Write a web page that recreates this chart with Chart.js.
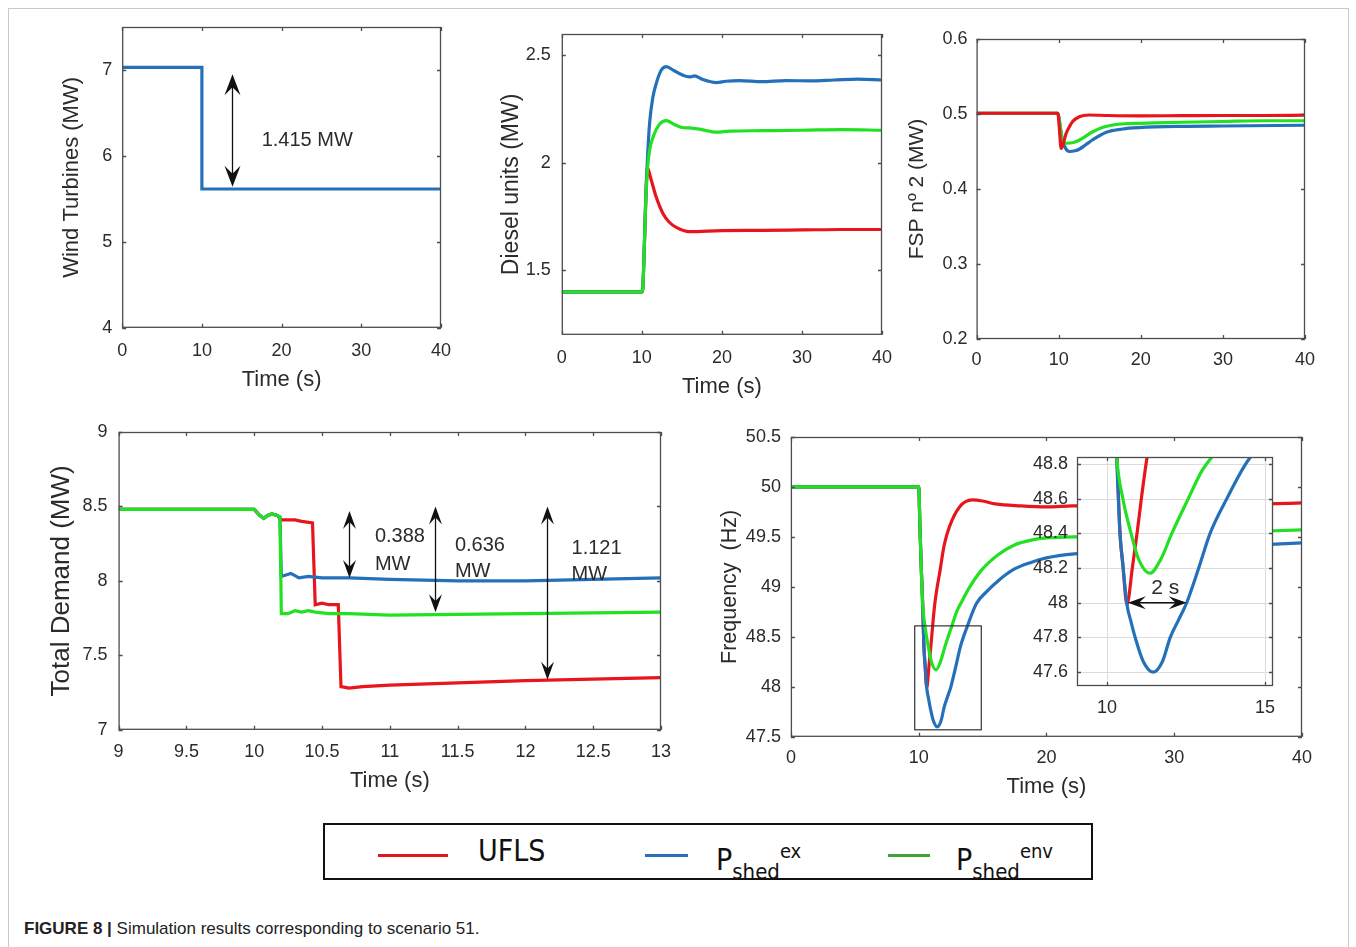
<!DOCTYPE html>
<html>
<head>
<meta charset="utf-8">
<script src="https://cdn.jsdelivr.net/npm/chart.js@4.4.1/dist/chart.umd.min.js"></script>
<style>
  body { margin: 0; background: #fff; width: 1356px; height: 947px; overflow: hidden; position: relative;
         font-family: "Liberation Sans", Arial, sans-serif; }
  canvas { position: absolute; }
  #frame { position: absolute; left: 8px; top: 8px; width: 1339px; height: 960px; border: 1px solid #c9c9c9; }
  #legend { position: absolute; left: 323px; top: 823px; width: 766px; height: 53px; border: 2px solid #111; background: #fff; }
  #legend .key { position: absolute; top: 29px; height: 3px; }
  #legend .name { position: absolute; top: 8px; font-family: "Liberation Sans Narrow", "DejaVu Sans Condensed", sans-serif;
                  font-stretch: condensed; font-size: 30px; color: #111; line-height: 36px; white-space: nowrap; }
  #legend sub { font-size: 22px; vertical-align: -9px; }
  #legend sup { font-size: 20px; vertical-align: 12px; }
  #caption { position: absolute; left: 24px; top: 919px; font-size: 17px; color: #222; white-space: nowrap; }
</style>
</head>
<body>
<div id="frame"></div>
<canvas id="wind"></canvas>
<canvas id="diesel"></canvas>
<canvas id="fsp"></canvas>
<canvas id="demand"></canvas>
<canvas id="freq"></canvas>
<canvas id="zoom"></canvas>

<div id="legend">
  <div class="key" style="left:53px;width:70px;background:#e3161e"></div>
  <div class="name" style="left:153px">UFLS</div>
  <div class="key" style="left:320px;width:43px;background:#2a6fbd"></div>
  <div class="name" style="left:391px">P<sub>shed</sub><sup>ex</sup></div>
  <div class="key" style="left:563px;width:42px;background:#3fa535"></div>
  <div class="name" style="left:631px">P<sub>shed</sub><sup>env</sup></div>
</div>
<div id="caption"><b>FIGURE 8 |</b> Simulation results corresponding to scenario 51.</div>

<script>
// tick values
const timeTicks = [0, 10, 20, 30, 40];
const windTicks = [4, 5, 6, 7];
const dieselTicks = [1.5, 2, 2.5];
const fspTicks = [0.2, 0.3, 0.4, 0.5, 0.6];
const demandTimeTicks = [9, 9.5, 10, 10.5, 11, 11.5, 12, 12.5, 13];
const demandTicks = [7, 7.5, 8, 8.5, 9];
const freqTicks = [47.5, 48, 48.5, 49, 49.5, 50, 50.5];
const zoomTimeTicks = [10, 15];
const zoomTicks = [47.6, 47.8, 48, 48.2, 48.4, 48.6, 48.8];

// wind turbines (MW), [time, value]
const windPower = [[0, 7.03], [10, 7.03], [10, 5.615], [40, 5.615]];

// diesel units (MW)
const dieselUfls = [[0, 1.40], [10, 1.40], [10.1, 1.41], [10.3, 1.6], [10.47, 1.80], [10.7, 1.977], [11.1, 1.93],
  [11.8, 1.84], [12.6, 1.767], [13.4, 1.725], [14.3, 1.70], [15.95, 1.68], [20, 1.685], [25, 1.686], [30, 1.688],
  [35, 1.69], [40, 1.69]];
const dieselEx = [[0, 1.40], [10, 1.40], [10.1, 1.41], [10.3, 1.6], [10.47, 1.82], [10.7, 2.02], [10.97, 2.186],
  [11.4, 2.31], [11.8, 2.37], [12.4, 2.43], [13.05, 2.448], [14, 2.43], [15, 2.41], [15.95, 2.40], [16.6, 2.405],
  [17.5, 2.39], [19.3, 2.374], [20.5, 2.38], [22.2, 2.383], [25, 2.378], [28, 2.383], [31, 2.382], [34, 2.386],
  [37, 2.39], [40, 2.386]];
const dieselEnv = [[0, 1.40], [10, 1.40], [10.1, 1.41], [10.3, 1.6], [10.47, 1.80], [10.7, 1.97], [10.97, 2.06],
  [11.5, 2.13], [12.2, 2.18], [13.05, 2.197], [14, 2.18], [15, 2.165], [15.95, 2.163], [17.5, 2.155], [19.3, 2.143],
  [21, 2.148], [25, 2.15], [30, 2.152], [35, 2.155], [40, 2.152]];

// FSP n 2 (MW)
const fspUfls = [[0, 0.501], [9.9, 0.501], [10.05, 0.485], [10.3, 0.454], [10.6, 0.462], [10.9, 0.474], [11.3, 0.483],
  [11.7, 0.49], [12.5, 0.4964], [13.7, 0.4987], [16, 0.498], [20, 0.4975], [25, 0.4978], [30, 0.498], [35, 0.498],
  [40, 0.4985]];
const fspEx = [[0, 0.501], [9.9, 0.501], [10.1, 0.49], [10.4, 0.468], [10.8, 0.455], [11.3, 0.45], [12.0, 0.451],
  [12.5, 0.453], [13.3, 0.459], [14.1, 0.4653], [15.8, 0.4756], [17.8, 0.48], [19.8, 0.4818], [25, 0.4835],
  [30, 0.484], [40, 0.485]];
const fspEnv = [[0, 0.501], [9.9, 0.501], [10.1, 0.49], [10.4, 0.468], [10.9, 0.461], [11.8, 0.462], [12.8, 0.467],
  [14.1, 0.476], [15.3, 0.482], [16.6, 0.4853], [18, 0.487], [19.8, 0.4875], [25, 0.489], [30, 0.49], [35, 0.491],
  [40, 0.491]];

// total demand (MW)
const demandUfls = [[9, 8.48], [10, 8.48], [10.04, 8.44], [10.07, 8.42], [10.1, 8.44], [10.13, 8.45], [10.17, 8.44],
  [10.2, 8.41], [10.3, 8.41], [10.35, 8.40], [10.43, 8.39], [10.45, 7.84], [10.5, 7.85], [10.55, 7.84], [10.62, 7.84],
  [10.64, 7.29], [10.7, 7.28], [10.8, 7.29], [11, 7.3], [12, 7.33], [13, 7.35]];
const demandEx = [[9, 8.48], [10, 8.48], [10.04, 8.44], [10.07, 8.42], [10.1, 8.44], [10.13, 8.45], [10.17, 8.44],
  [10.19, 8.43], [10.2, 8.03], [10.27, 8.05], [10.33, 8.02], [10.4, 8.03], [10.5, 8.02], [10.7, 8.02], [11, 8.01],
  [11.5, 8.0], [12, 8.0], [12.5, 8.01], [13, 8.02]];
const demandEnv = [[9, 8.48], [10, 8.48], [10.04, 8.44], [10.07, 8.42], [10.1, 8.44], [10.13, 8.45], [10.17, 8.44],
  [10.19, 8.43], [10.2, 7.78], [10.25, 7.78], [10.3, 7.80], [10.35, 7.79], [10.4, 7.80], [10.45, 7.79], [10.55, 7.78],
  [10.7, 7.78], [11, 7.77], [12, 7.78], [13, 7.79]];

// frequency (Hz)
const freqUfls = [[0, 50], [10, 50], [10.1, 49.6], [10.2, 49.2], [10.3, 48.9], [10.41, 48.4], [10.5, 48.22],
  [10.63, 47.99], [10.8, 48.2], [10.95, 48.4], [11.1, 48.62], [11.26, 48.83], [11.45, 49.0], [11.64, 49.14],
  [12.0, 49.42], [12.4, 49.6], [13.2, 49.8], [14.2, 49.87], [15, 49.86], [16, 49.83], [18, 49.81], [20, 49.8],
  [22, 49.81], [30, 49.82], [37, 49.83], [40, 49.84]];
const freqEx = [[0, 50], [10, 50], [10.1, 49.6], [10.2, 49.2], [10.3, 48.85], [10.41, 48.4], [10.5, 48.22],
  [10.63, 47.99], [10.76, 47.89], [10.89, 47.8], [11.15, 47.66], [11.46, 47.6], [11.75, 47.66], [12.0, 47.8],
  [12.26, 47.9], [12.52, 48.0], [12.9, 48.2], [13.26, 48.4], [13.79, 48.6], [14.5, 48.83], [15.3, 48.95],
  [16.3, 49.07], [17.5, 49.18], [18.9, 49.25], [20, 49.29], [22.2, 49.33], [30, 49.38], [40, 49.44]];
const freqEnv = [[0, 50], [10, 50], [10.1, 49.6], [10.2, 49.2], [10.31, 48.83], [10.5, 48.6], [10.76, 48.4],
  [11.0, 48.25], [11.36, 48.17], [11.7, 48.25], [12.05, 48.4], [12.57, 48.6], [13.0, 48.76], [13.36, 48.85],
  [14, 49.0], [15, 49.18], [16.3, 49.33], [17.5, 49.42], [18.9, 49.47], [20, 49.49], [22.2, 49.5], [30, 49.53],
  [40, 49.57]];

const INK = '#2b2b2b';
const RED = '#e8151d', BLUE = '#2470b9', GREEN = '#22e022';
Chart.defaults.font.family = "'Liberation Sans', Arial, sans-serif";
Chart.defaults.color = INK;

function line(pairs, color, order, smooth) {
  return {
    data: pairs.map(p => ({ x: p[0], y: p[1] })),
    borderColor: color, borderWidth: 3.2, pointRadius: 0, fill: false, order: order,
    tension: 0, cubicInterpolationMode: smooth ? 'monotone' : 'default'
  };
}

function head(ctx, tx, ty, dx, dy, len, half) {
  const px = -dy, py = dx;
  ctx.beginPath();
  ctx.moveTo(tx, ty);
  ctx.lineTo(tx - dx * len + px * half, ty - dy * len + py * half);
  ctx.lineTo(tx - dx * len * 0.62, ty - dy * len * 0.62);
  ctx.lineTo(tx - dx * len - px * half, ty - dy * len - py * half);
  ctx.closePath();
  ctx.fill();
}

// box round the axes, MATLAB style inward ticks, optional white fill and grid
function boxPlugin(white) {
  return {
    id: 'box',
    beforeDatasetsDraw(chart) {
      const { ctx, chartArea: a, scales } = chart;
      if (!white) return;
      ctx.save();
      ctx.fillStyle = '#fff';
      ctx.fillRect(a.left, a.top, a.width, a.height);
      ctx.strokeStyle = '#dcdcdc';
      ctx.lineWidth = 1;
      ctx.beginPath();
      scales.x.ticks.forEach(t => {
        const px = Math.round(scales.x.getPixelForValue(t.value)) + 0.5;
        ctx.moveTo(px, a.top); ctx.lineTo(px, a.bottom);
      });
      scales.y.ticks.forEach(t => {
        const py = Math.round(scales.y.getPixelForValue(t.value)) + 0.5;
        ctx.moveTo(a.left, py); ctx.lineTo(a.right, py);
      });
      ctx.stroke();
      ctx.restore();
    },
    afterDatasetsDraw(chart) {
      const { ctx, chartArea: a, scales } = chart;
      ctx.save();
      ctx.strokeStyle = '#4d4d4d';
      ctx.lineWidth = 1.3;
      ctx.strokeRect(a.left + 0.5, a.top + 0.5, a.width - 1, a.height - 1);
      ctx.beginPath();
      scales.x.ticks.forEach(t => {
        const px = Math.round(scales.x.getPixelForValue(t.value)) + 0.5;
        ctx.moveTo(px, a.bottom); ctx.lineTo(px, a.bottom - 4);
        ctx.moveTo(px, a.top); ctx.lineTo(px, a.top + 4);
      });
      scales.y.ticks.forEach(t => {
        const py = Math.round(scales.y.getPixelForValue(t.value)) + 0.5;
        ctx.moveTo(a.left, py); ctx.lineTo(a.left + 4, py);
        ctx.moveTo(a.right, py); ctx.lineTo(a.right - 4, py);
      });
      ctx.stroke();
      ctx.restore();
    }
  };
}

// arrows, labels and the zoom rectangle, placed in data units
function notesPlugin(notes) {
  return {
    id: 'notes',
    afterDatasetsDraw(chart) {
      const { ctx } = chart;
      const X = v => chart.scales.x.getPixelForValue(v);
      const Y = v => chart.scales.y.getPixelForValue(v);
      ctx.save();
      notes.forEach(n => {
        ctx.fillStyle = '#111';
        ctx.strokeStyle = '#111';
        if (n.kind === 'varrow') {
          const x = Math.round(X(n.x)) + 0.5, y1 = Y(n.y1), y2 = Y(n.y2);
          ctx.lineWidth = 1.3;
          ctx.beginPath(); ctx.moveTo(x, y1 + n.len * 0.6); ctx.lineTo(x, y2 - n.len * 0.6); ctx.stroke();
          head(ctx, x, y1, 0, -1, n.len, n.half);
          head(ctx, x, y2, 0, 1, n.len, n.half);
        } else if (n.kind === 'harrow') {
          const y = Y(n.y), x1 = X(n.x1), x2 = X(n.x2);
          ctx.lineWidth = 1.5;
          ctx.beginPath(); ctx.moveTo(x1 + n.len * 0.6, y); ctx.lineTo(x2 - n.len * 0.6, y); ctx.stroke();
          head(ctx, x1, y, -1, 0, n.len, n.half);
          head(ctx, x2, y, 1, 0, n.len, n.half);
        } else if (n.kind === 'text') {
          ctx.fillStyle = INK;
          ctx.font = n.size + "px 'Liberation Sans', Arial, sans-serif";
          ctx.textAlign = n.align || 'left';
          ctx.textBaseline = 'middle';
          ctx.fillText(n.text, X(n.x), Y(n.y));
        } else if (n.kind === 'rect') {
          ctx.strokeStyle = '#333';
          ctx.lineWidth = 1.2;
          ctx.strokeRect(X(n.x1), Y(n.y2), X(n.x2) - X(n.x1), Y(n.y1) - Y(n.y2));
        }
      });
      ctx.restore();
    }
  };
}

// area = plot box in page pixels
function panel(id, area, cfg) {
  const ySize = cfg.yTitleSize || 22, xSize = 22;
  const canvasLeft = cfg.yTitle ? cfg.yTitleX - ySize * 0.6 - 2 : area.l - 60;
  const canvasBottom = cfg.xTitle ? cfg.xTitleY + xSize * 0.6 + 2 : cfg.xLabelY + 16;
  const padL = area.l - canvasLeft, padB = canvasBottom - area.b;
  const padT = 32, padR = 32;
  const cv = document.getElementById(id);
  cv.width = area.r - area.l + padL + padR;
  cv.height = area.b - area.t + padT + padB;
  cv.style.left = canvasLeft + 'px';
  cv.style.top = (area.t - padT) + 'px';
  const fmt = v => String(+v.toFixed(3));
  return new Chart(cv, {
    type: 'line',
    data: { datasets: cfg.datasets },
    options: {
      responsive: false, animation: false, devicePixelRatio: 1,
      layout: { padding: { top: padT, right: padR, left: 0, bottom: 0 } },
      plugins: { legend: { display: false }, tooltip: { enabled: false } },
      scales: {
        x: {
          type: 'linear', min: cfg.xMin, max: cfg.xMax,
          afterBuildTicks: s => { s.ticks = cfg.xTicks.map(v => ({ value: v })); },
          afterFit: s => { s.height = padB; },
          grid: { display: false, drawTicks: false }, border: { display: false },
          ticks: { autoSkip: false, maxRotation: 0, padding: cfg.xLabelY - area.b - 10.8,
                   font: { size: 18 }, color: INK, callback: fmt },
          title: { display: !!cfg.xTitle, text: cfg.xTitle, font: { size: xSize }, color: INK,
                   padding: { top: 0, bottom: 2 } }
        },
        y: {
          type: 'linear', min: cfg.yMin, max: cfg.yMax,
          afterBuildTicks: s => { s.ticks = cfg.yTicks.map(v => ({ value: v })); },
          afterFit: s => { s.width = padL; },
          grid: { display: false, drawTicks: false }, border: { display: false },
          ticks: { autoSkip: false, padding: cfg.yGap, font: { size: 18 }, color: INK, callback: fmt },
          title: { display: !!cfg.yTitle, text: cfg.yTitle, font: { size: ySize }, color: INK,
                   padding: { top: 2, bottom: 0 } }
        }
      }
    },
    plugins: [boxPlugin(cfg.white), notesPlugin(cfg.notes || [])]
  });
}

panel('wind', { l: 122, t: 27, r: 441, b: 328 }, {
  datasets: [line(windPower, BLUE, 0, false)],
  xMin: 0, xMax: 40, xTicks: timeTicks, yMin: 4, yMax: 7.5, yTicks: windTicks,
  yTitle: 'Wind Turbines (MW)', yTitleX: 72, yTitleSize: 22,
  xTitle: 'Time (s)', xTitleY: 380, xLabelY: 351, yGap: 10,
  notes: [
    { kind: 'varrow', x: 13.75, y1: 6.95, y2: 5.64, len: 21, half: 8 },
    { kind: 'text', x: 17.5, y: 6.18, text: '1.415 MW', size: 20 }
  ]
});

panel('diesel', { l: 562, t: 34, r: 883, b: 335 }, {
  datasets: [line(dieselEnv, GREEN, 0, true), line(dieselEx, BLUE, 1, true), line(dieselUfls, RED, 2, true)],
  xMin: 0, xMax: 40, xTicks: timeTicks, yMin: 1.2, yMax: 2.6, yTicks: dieselTicks,
  yTitle: 'Diesel units (MW)', yTitleX: 512, yTitleSize: 23,
  xTitle: 'Time (s)', xTitleY: 387, xLabelY: 358, yGap: 11
});

panel('fsp', { l: 977, t: 39, r: 1306, b: 339 }, {
  datasets: [line(fspEnv, GREEN, 1, true), line(fspEx, BLUE, 2, true), line(fspUfls, RED, 0, true)],
  xMin: 0, xMax: 40, xTicks: timeTicks, yMin: 0.2, yMax: 0.6, yTicks: fspTicks,
  yTitle: 'FSP nº 2 (MW)', yTitleX: 918, yTitleSize: 21, xLabelY: 360, yGap: 9
});

panel('demand', { l: 119, t: 432, r: 662, b: 730 }, {
  datasets: [line(demandEnv, GREEN, 0, false), line(demandEx, BLUE, 1, false), line(demandUfls, RED, 2, false)],
  xMin: 9, xMax: 13, xTicks: demandTimeTicks, yMin: 7, yMax: 9, yTicks: demandTicks,
  yTitle: 'Total Demand (MW)', yTitleX: 62, yTitleSize: 26,
  xTitle: 'Time (s)', xTitleY: 781, xLabelY: 752, yGap: 11,
  notes: [
    { kind: 'varrow', x: 10.70, y1: 8.47, y2: 8.02, len: 18, half: 6.5 },
    { kind: 'varrow', x: 11.335, y1: 8.50, y2: 7.79, len: 18, half: 6.5 },
    { kind: 'varrow', x: 12.16, y1: 8.50, y2: 7.336, len: 18, half: 6.5 },
    { kind: 'text', x: 10.89, y: 8.295, text: '0.388', size: 20 },
    { kind: 'text', x: 10.89, y: 8.107, text: 'MW', size: 20 },
    { kind: 'text', x: 11.48, y: 8.24, text: '0.636', size: 20 },
    { kind: 'text', x: 11.48, y: 8.06, text: 'MW', size: 20 },
    { kind: 'text', x: 12.34, y: 8.215, text: '1.121', size: 20 },
    { kind: 'text', x: 12.34, y: 8.04, text: 'MW', size: 20 }
  ]
});

panel('freq', { l: 791, t: 437, r: 1303, b: 737 }, {
  datasets: [line(freqEnv, GREEN, 0, true), line(freqEx, BLUE, 1, true), line(freqUfls, RED, 2, true)],
  xMin: 0, xMax: 40, xTicks: timeTicks, yMin: 47.5, yMax: 50.5, yTicks: freqTicks,
  yTitle: 'Frequency  (Hz)', yTitleX: 730, yTitleSize: 21.5,
  xTitle: 'Time (s)', xTitleY: 787, xLabelY: 758, yGap: 10,
  notes: [{ kind: 'rect', x1: 9.69, x2: 14.9, y1: 47.57, y2: 48.61 }]
});

panel('zoom', { l: 1077, t: 457, r: 1273, b: 686 }, {
  datasets: [line(freqEnv, GREEN, 0, true), line(freqEx, BLUE, 1, true), line(freqUfls, RED, 2, true)],
  xMin: 9.05, xMax: 15.25, xTicks: zoomTimeTicks, yMin: 47.52, yMax: 48.84, yTicks: zoomTicks,
  xLabelY: 708, yGap: 9, white: true,
  notes: [
    { kind: 'harrow', y: 48.0, x1: 10.66, x2: 12.52, len: 18, half: 6.5 },
    { kind: 'text', x: 11.84, y: 48.085, text: '2 s', size: 21, align: 'center' }
  ]
});
</script>
</body>
</html>
